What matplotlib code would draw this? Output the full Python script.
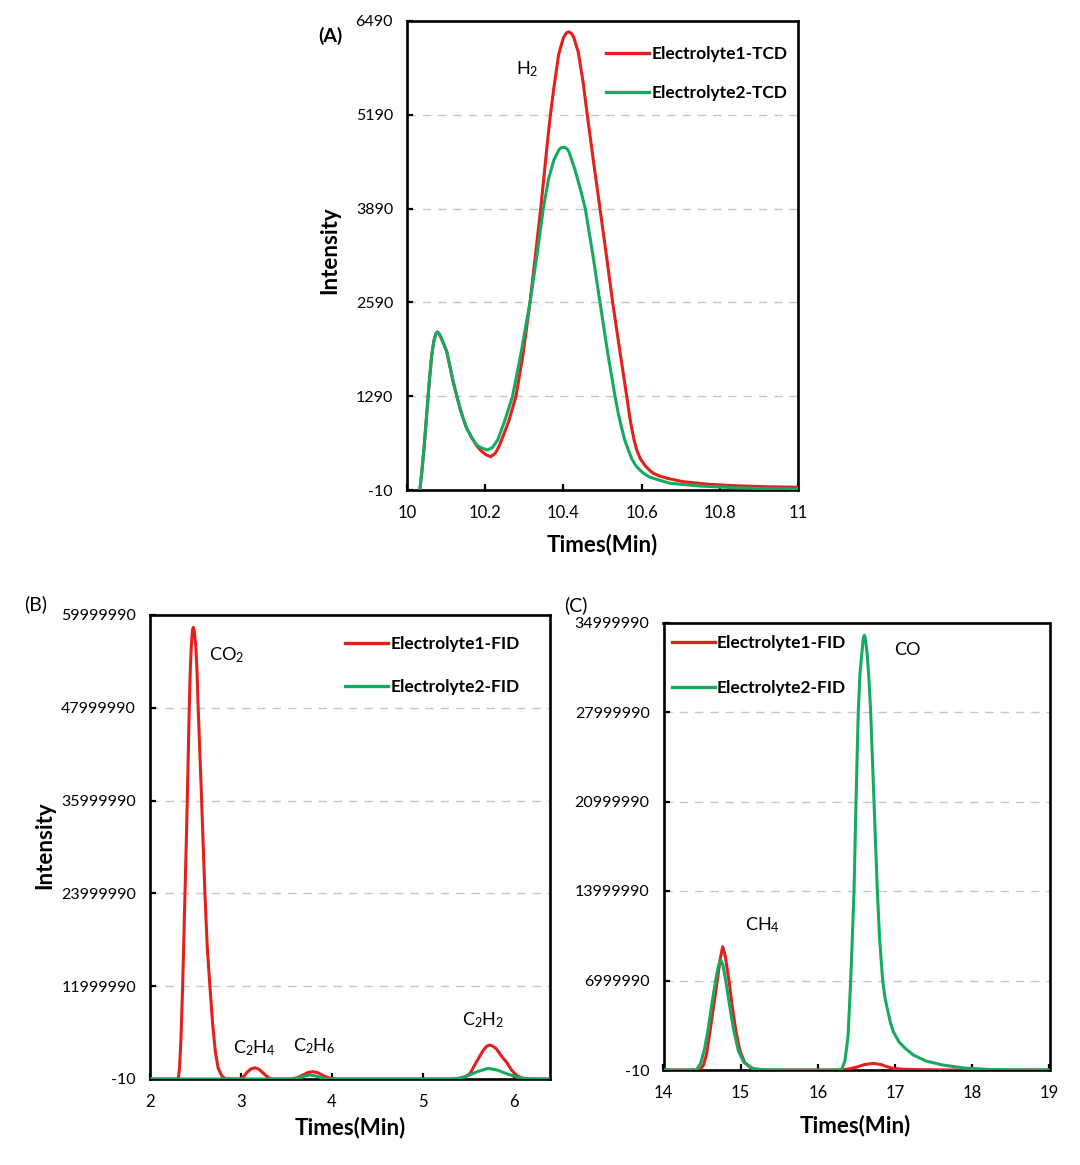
import matplotlib
matplotlib.use("Agg")
import matplotlib.pyplot as plt

plt.rcParams['font.family'] = ['Lato', 'DejaVu Sans']
plt.rcParams['mathtext.fontset'] = 'custom'
plt.rcParams['mathtext.rm'] = 'Lato'
plt.rcParams['mathtext.default'] = 'regular'

RED = '#E3201B'
GREEN = '#17A862'

# ---------------- Panel A (TCD) ----------------
a_e1_x = [10.033, 10.038, 10.0435, 10.050, 10.057, 10.063, 10.069, 10.0735, 10.0776, 10.082, 10.088,
          10.095, 10.1015, 10.110, 10.118, 10.127, 10.1355, 10.144, 10.1526, 10.165, 10.178, 10.190,
          10.202, 10.214, 10.226, 10.234, 10.242, 10.260, 10.2788, 10.297, 10.3146, 10.328, 10.342,
          10.359, 10.366, 10.375, 10.388, 10.400, 10.407, 10.4135, 10.420, 10.426, 10.438, 10.451,
          10.461, 10.477, 10.4936, 10.510, 10.526, 10.544, 10.562, 10.569, 10.575, 10.581, 10.5875,
          10.597, 10.608, 10.619, 10.630, 10.645, 10.667, 10.707, 10.770, 10.835, 10.920, 11.0]
a_e1_y = [-10, 250, 569, 1010, 1493, 1850, 2060, 2150, 2180, 2160, 2090,
          2000, 1909, 1700, 1493, 1300, 1124, 975, 846, 720, 605, 530,
          478, 452, 500, 580, 684, 940, 1290, 1880, 2590, 3220, 3890,
          4800, 5150, 5540, 6030, 6258, 6321, 6340, 6321, 6270, 6060, 5620,
          5190, 4540, 3890, 3240, 2590, 1930, 1290, 1020, 840, 680, 545,
          420, 335, 270, 222, 185, 150, 105, 70, 50, 35, 28]

a_e2_x = [10.033, 10.038, 10.0435, 10.050, 10.057, 10.063, 10.069, 10.0735, 10.0776, 10.082, 10.088,
          10.095, 10.1015, 10.110, 10.118, 10.127, 10.1355, 10.144, 10.1526, 10.165, 10.178, 10.190,
          10.205, 10.218, 10.232, 10.250, 10.270, 10.292, 10.3146, 10.332, 10.3486, 10.362, 10.376,
          10.389, 10.395, 10.4015, 10.408, 10.414, 10.429, 10.443, 10.456, 10.475, 10.4936, 10.513,
          10.532, 10.540, 10.549, 10.557, 10.566, 10.575, 10.585, 10.595, 10.605, 10.620, 10.640,
          10.673, 10.750, 10.835, 10.920, 11.0]
a_e2_y = [-10, 250, 569, 1010, 1493, 1850, 2060, 2150, 2180, 2160, 2090,
          2000, 1909, 1700, 1493, 1300, 1124, 975, 846, 720, 614, 575,
          545, 575, 684, 950, 1290, 1900, 2590, 3230, 3890, 4300, 4570,
          4710, 4735, 4740, 4725, 4680, 4440, 4170, 3890, 3260, 2590, 1900,
          1290, 1060, 850, 680, 545, 420, 330, 270, 222, 170, 135,
          83, 45, 22, 10, 2]

a_yticks = [-10, 1290, 2590, 3890, 5190, 6490]
a_xticks = [10, 10.2, 10.4, 10.6, 10.8, 11]
a_xlabels = ['10', '10.2', '10.4', '10.6', '10.8', '11']

# ---------------- Panel B (FID) ----------------
b_e1_x = [2.0, 2.30, 2.311, 2.325, 2.340, 2.359, 2.372, 2.385, 2.398, 2.410, 2.421, 2.432, 2.444,
          2.454, 2.465, 2.470, 2.476, 2.482, 2.490, 2.505, 2.518, 2.530, 2.549, 2.568, 2.586, 2.604,
          2.630, 2.659, 2.690, 2.720, 2.750, 2.790, 2.824, 2.90, 2.99, 3.03, 3.07, 3.11, 3.155, 3.20,
          3.25, 3.30, 3.34, 3.55, 3.62, 3.68, 3.74, 3.795, 3.85, 3.91, 3.98, 4.05, 5.40, 5.46,
          5.52, 5.59, 5.66, 5.70, 5.736, 5.77, 5.81, 5.87, 5.92, 5.98, 6.04, 6.10, 6.16, 6.4]
b_e1_y_M = [0, 0, 0.05, 1.5, 5.0, 12, 18, 24, 30, 36, 42, 48, 53.2,
            55.8, 57.7, 58.2, 58.4, 58.2, 57.6, 55.8, 52.5, 48, 42, 36, 30, 24,
            17, 12, 7, 3.4, 1.4, 0.4, 0.05, 0, 0, 0.3, 0.9, 1.3, 1.45, 1.25,
            0.7, 0.2, 0, 0, 0.15, 0.5, 0.85, 0.95, 0.8, 0.4, 0.1, 0, 0, 0.2,
            0.7, 2.2, 3.6, 4.2, 4.4, 4.25, 3.9, 2.9, 2.2, 1.1, 0.4, 0.08, 0, 0]

b_e2_x = [2.0, 3.58, 3.64, 3.70, 3.758, 3.82, 3.88, 3.95, 4.0, 5.30, 5.40, 5.50, 5.60, 5.72,
          5.82, 5.92, 6.02, 6.12, 6.25, 6.4]
b_e2_y_M = [0, 0, 0.15, 0.38, 0.52, 0.4, 0.18, 0.03, 0, 0, 0.1, 0.45, 0.95, 1.38,
            1.15, 0.7, 0.3, 0.08, 0, 0]

b_yticks = [-10, 11999990, 23999990, 35999990, 47999990, 59999990]
b_xticks = [2, 3, 4, 5, 6]

# ---------------- Panel C (FID) ----------------
c_e1_x = [14.0, 14.45, 14.473, 14.52, 14.56, 14.602, 14.65, 14.697, 14.735, 14.767, 14.80, 14.848,
          14.89, 14.939, 14.99, 15.05, 15.142, 15.25, 15.4, 16.30, 16.40, 16.50, 16.60, 16.718,
          16.82, 16.90, 16.97, 17.10, 17.30, 17.60, 18.0, 19.0]
c_e1_y_M = [0, 0, 0.02, 0.4, 1.3, 3.0, 5.0, 7.0, 8.7, 9.64, 8.9, 7.0,
            5.0, 3.0, 1.5, 0.6, 0.1, 0.02, 0, 0, 0.08, 0.22, 0.42, 0.52,
            0.42, 0.25, 0.13, 0.06, 0.03, 0.01, 0, 0]

c_e2_x = [14.0, 14.40, 14.43, 14.48, 14.53, 14.573, 14.625, 14.676, 14.71, 14.741, 14.77, 14.806,
          14.86, 14.913, 14.97, 15.04, 15.163, 15.30, 15.5, 16.25, 16.308, 16.35, 16.39, 16.425,
          16.447, 16.468, 16.481, 16.494, 16.508, 16.523, 16.545, 16.567, 16.585, 16.593, 16.601,
          16.61, 16.62, 16.640, 16.662, 16.684, 16.705, 16.727, 16.748, 16.770, 16.80, 16.839,
          16.87, 16.899, 16.94, 16.977, 17.05, 17.13, 17.236, 17.40, 17.62, 17.9, 18.2, 18.5, 19.0]
c_e2_y_M = [0, 0, 0.03, 0.5, 1.6, 3.0, 5.1, 7.0, 8.1, 8.6, 8.2, 7.0,
            4.9, 3.0, 1.5, 0.6, 0.1, 0.02, 0, 0, 0.05, 0.7, 2.6, 7.0,
            10.5, 14, 17.5, 21, 24.5, 28, 31, 32.45, 33.6, 33.9, 34.0,
            33.9, 33.5, 32.45, 30.5, 28, 24.5, 21, 17.5, 14, 10.2, 7.0,
            5.6, 4.8, 3.7, 3.0, 2.2, 1.7, 1.17, 0.7, 0.39, 0.15, 0.05, 0.01, 0]

c_yticks = [-10, 6999990, 13999990, 20999990, 27999990, 34999990]
c_xticks = [14, 15, 16, 17, 18, 19]

W, H = 1080, 1165
fig = plt.figure(figsize=(W / 100, H / 100), dpi=100)


def add_axes(l, r, t, b):
    return fig.add_axes([l / W, 1 - b / H, (r - l) / W, (b - t) / H])


def style(ax, yticks, xticks, xlabels=None):
    for s in ax.spines.values():
        s.set_linewidth(1.9)
        s.set_color('black')
    ax.set_yticks(yticks)
    ax.set_yticklabels([str(v) for v in yticks])
    ax.set_xticks(xticks)
    if xlabels is not None:
        ax.set_xticklabels(xlabels)
    ax.tick_params(direction='in', length=4, width=1.6, labelsize=11.5, pad=10, colors='black')
    ax.tick_params(axis='x', pad=11, labelsize=12)
    for v in yticks[1:-1]:
        ax.axhline(v, color='#c6c6c6', lw=1.0, dashes=(6, 5), zorder=1)


def legend(ax, labels, x0, y0, spacing):
    h1, = ax.plot([], [], color=RED, lw=2.4)
    h2, = ax.plot([], [], color=GREEN, lw=2.4)
    ax.legend([h1, h2], labels, loc='upper left', bbox_to_anchor=(x0, y0), frameon=False,
              borderpad=0, borderaxespad=0, handlelength=2.5, handletextpad=0.12,
              labelspacing=spacing, prop={'weight': 'bold', 'size': 12.5})


LW = 2.2

# Panel A
axA = add_axes(407, 798, 21, 490)
axA.plot(a_e1_x, a_e1_y, color=RED, lw=LW, zorder=3)
axA.plot(a_e2_x, a_e2_y, color=GREEN, lw=LW, zorder=3.1)
axA.set_xlim(10, 11)
axA.set_ylim(-10, 6490)
style(axA, a_yticks, a_xticks, a_xlabels)
legend(axA, ['Electrolyte1-TCD', 'Electrolyte2-TCD'], 0.509, 0.946, 1.3)

# Panel B
axB = add_axes(150, 550, 615, 1079)
axB.plot(b_e1_x, [v * 1e6 for v in b_e1_y_M], color=RED, lw=LW, zorder=3)
axB.plot(b_e2_x, [v * 1e6 for v in b_e2_y_M], color=GREEN, lw=LW, zorder=3.1)
axB.set_xlim(2, 6.4)
axB.set_ylim(-10, 59999990)
style(axB, b_yticks, b_xticks)
legend(axB, ['Electrolyte1-FID', 'Electrolyte2-FID'], 0.4875, 0.955, 1.55)

# Panel C
axC = add_axes(663.5, 1049.5, 622.5, 1070)
axC.plot(c_e1_x, [v * 1e6 for v in c_e1_y_M], color=RED, lw=LW, zorder=3)
axC.plot(c_e2_x, [v * 1e6 for v in c_e2_y_M], color=GREEN, lw=LW, zorder=3.1)
axC.set_xlim(14, 19)
axC.set_ylim(-10, 34999990)
style(axC, c_yticks, c_xticks)
legend(axC, ['Electrolyte1-FID', 'Electrolyte2-FID'], 0.021, 0.973, 1.7)


def ftext(X, Y, s, **kw):
    fig.text(X / W, 1 - Y / H, s, ha='center', va='center', **kw)


# axis titles
ftext(330, 250, 'Intensity', rotation=90, fontsize=16, fontweight='bold')
ftext(602, 545, 'Times(Min)', fontsize=16, fontweight='bold')
ftext(45, 845, 'Intensity', rotation=90, fontsize=16, fontweight='bold')
ftext(350, 1128, 'Times(Min)', fontsize=16, fontweight='bold')
ftext(855, 1126, 'Times(Min)', fontsize=16, fontweight='bold')

# panel letters
ftext(330, 36, '(A)', fontsize=14, fontweight='bold')
ftext(36, 604, '(B)', fontsize=14)
ftext(576, 605, '(C)', fontsize=14)

# peak labels
ftext(527, 69, 'H$_2$', fontsize=13)
ftext(227, 655, 'CO$_2$', fontsize=13)
ftext(254, 1048, 'C$_2$H$_4$', fontsize=13)
ftext(314, 1046, 'C$_2$H$_6$', fontsize=13)
ftext(483, 1020, 'C$_2$H$_2$', fontsize=13)
ftext(762, 925, 'CH$_4$', fontsize=13)
ftext(907, 650, 'CO', fontsize=13)

fig.savefig('out.png', dpi=100)
